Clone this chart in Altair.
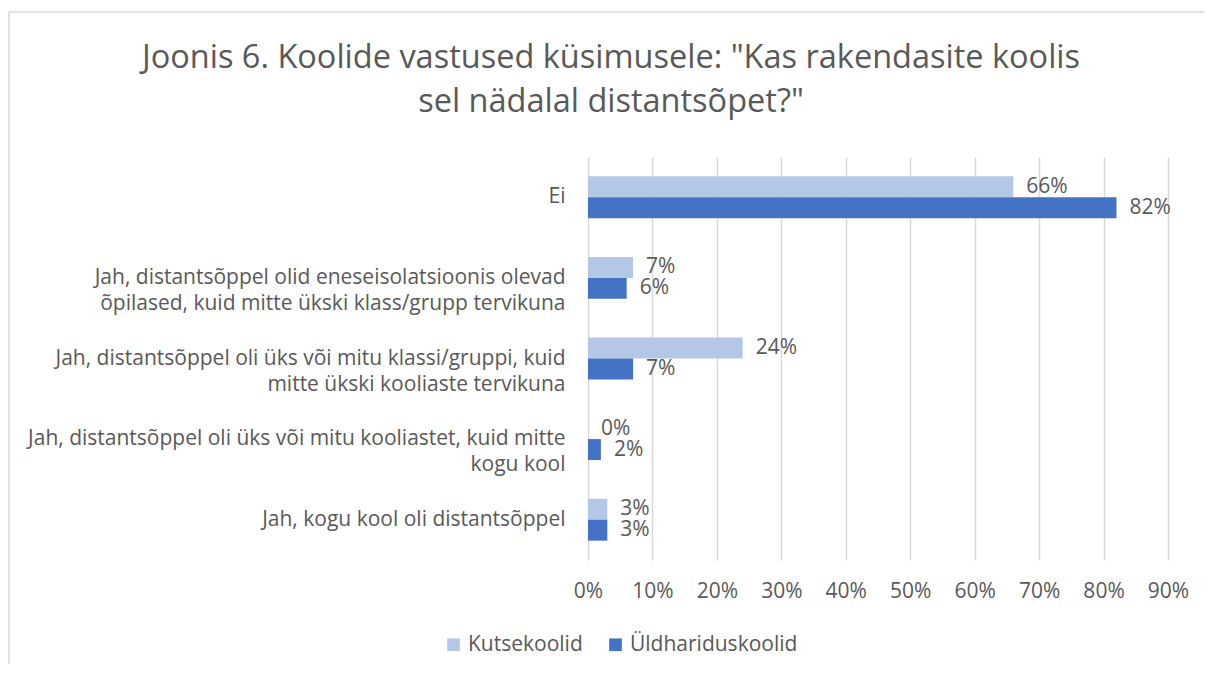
import altair as alt
import pandas as pd

categories = [
    "Ei",
    "Jah, distantsõppel olid eneseisolatsioonis olevad|õpilased, kuid mitte ükski klass/grupp tervikuna",
    "Jah, distantsõppel oli üks või mitu klassi/gruppi, kuid|mitte ükski kooliaste tervikuna",
    "Jah, distantsõppel oli üks või mitu kooliastet, kuid mitte|kogu kool",
    "Jah, kogu kool oli distantsõppel",
]
series = ["Kutsekoolid", "Üldhariduskoolid"]
kutse = [0.66, 0.07, 0.24, 0.00, 0.03]
yld = [0.82, 0.06, 0.07, 0.02, 0.03]
colors = ["#B4C7E7", "#4472C4"]
x_ticks = [0, 0.1, 0.2, 0.3, 0.4, 0.5, 0.6, 0.7, 0.8, 0.9]
title_lines = ['Joonis 6. Koolide vastused küsimusele: "Kas rakendasite koolis',
               'sel nädalal distantsõpet?"']

rows = []
for c, a, b in zip(categories, kutse, yld):
    rows.append({"cat": c, "series": series[0], "value": a})
    rows.append({"cat": c, "series": series[1], "value": b})
df = pd.DataFrame(rows)

FONT = "Open Sans"
TXT = "#595959"
FS = 21

y_enc = alt.Y("cat:N", sort=categories,
              scale=alt.Scale(paddingInner=0.48, paddingOuter=0.24),
              axis=alt.Axis(title=None, labelExpr="split(datum.label, '|')",
                            labelFontSize=FS, labelColor=TXT, labelFont=FONT,
                            labelLimit=700, labelPadding=23, labelLineHeight=26,
                            ticks=False, domain=False, grid=False))
yoff = alt.YOffset("series:N", sort=series)

base = alt.Chart(df)

bars = base.mark_bar().encode(
    x=alt.X("value:Q",
            scale=alt.Scale(domain=[0, 0.9], nice=False),
            axis=alt.Axis(title=None, format=".0%", values=x_ticks,
                          labelFontSize=FS, labelColor=TXT, labelFont=FONT,
                          labelPadding=20, labelFlush=False, labelOverlap=False,
                          ticks=False, domain=False,
                          grid=True, gridColor="#D9D9D9", gridWidth=1.5)),
    y=y_enc,
    yOffset=yoff,
    color=alt.Color("series:N", sort=series,
                    scale=alt.Scale(domain=series, range=colors),
                    legend=alt.Legend(title=None, orient="none", direction="horizontal",
                                      legendX=-145, legendY=477,
                                      symbolType="square", symbolSize=160,
                                      symbolStrokeWidth=0, labelLimit=400,
                                      labelFontSize=FS, labelColor=TXT, labelFont=FONT,
                                      columnPadding=22, labelOffset=4)),
)

labels = base.mark_text(align="left", baseline="middle", dx=13,
                        fontSize=FS, font=FONT, color=TXT).encode(
    x="value:Q",
    y=alt.Y("cat:N", sort=categories),
    yOffset=yoff,
    text=alt.Text("value:Q", format=".0%"),
)

frame_df = pd.DataFrame({"a": [0]})
top_line = alt.Chart(frame_df).mark_rule(color="#D9D9D9", strokeWidth=1.5).encode(
    x=alt.value(-579), x2=alt.value(620), y=alt.value(-145))
left_line = alt.Chart(frame_df).mark_rule(color="#D9D9D9", strokeWidth=1.5).encode(
    x=alt.value(-579), y=alt.value(-145), y2=alt.value(520))

chart = alt.layer(top_line, left_line, bars, labels).properties(
    width=580, height=403,
    title=alt.TitleParams(text=title_lines, fontSize=32.5, font=FONT, color=TXT,
                          fontWeight="normal", anchor="middle", frame="group",
                          dx=-267, dy=107, offset=0, lineHeight=44),
    autosize=alt.AutoSizeParams(type="none"),
    padding={"left": 580, "top": 149, "right": 36, "bottom": 104},
).configure_view(stroke=None)

chart.save("out.html", embed_options={"renderer": "svg", "actions": False})
